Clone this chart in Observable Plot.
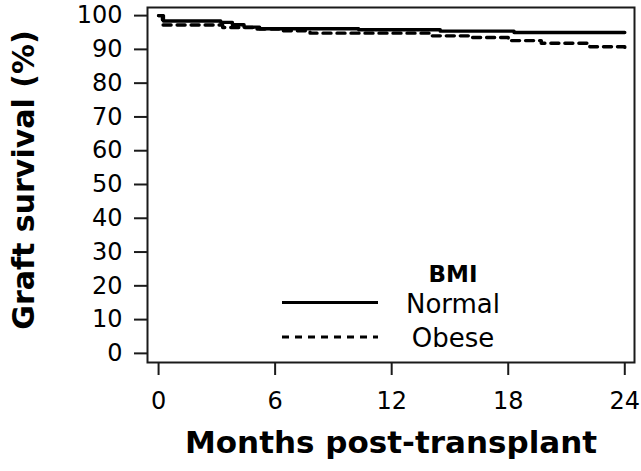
<!DOCTYPE html>
<html>
<head>
<meta charset="utf-8">
<script src="https://cdn.jsdelivr.net/npm/d3@7"></script>
<script src="https://cdn.jsdelivr.net/npm/@observablehq/plot@0.6"></script>
<style>
  html, body { margin: 0; padding: 0; background: #fff; }
  #wrap { position: relative; width: 641px; height: 471px; font-family: "DejaVu Sans", sans-serif; }
  #legend { position: absolute; left: 0; top: 0; pointer-events: none; }
</style>
</head>
<body>
<div id="wrap"></div>
<script>
// Kaplan-Meier step data (months, survival %)
const normalMonths = [0, 0.25, 3.2, 3.8, 4.4, 5.2, 10.3, 14.5, 18.3, 24];
const normalSurv   = [100, 98.4, 98.0, 97.3, 96.6, 96.1, 95.8, 95.4, 95.0, 95.0];
const obeseMonths  = [0, 0.2, 3.3, 5.0, 6.3, 7.8, 14.0, 16.0, 18.0, 19.7, 22.2, 24];
const obeseSurv    = [100, 97.2, 96.5, 96.0, 95.5, 94.8, 94.0, 93.5, 92.6, 91.8, 90.8, 90.0];
const groups = ["Normal", "Obese"];
const xTicks = [0, 6, 12, 18, 24];
const yTicks = [0, 10, 20, 30, 40, 50, 60, 70, 80, 90, 100];
const xTitle = "Months post-transplant";
const yTitle = "Graft survival (%)";
const legendTitle = "BMI";

const normal = normalMonths.map((m, i) => ({month: m, surv: normalSurv[i], group: groups[0]}));
const obese = obeseMonths.map((m, i) => ({month: m, surv: obeseSurv[i], group: groups[1]}));

const font = "DejaVu Sans";
const ink = "#1a1a1a";

const chart = Plot.plot({
  width: 641,
  height: 471,
  marginLeft: 147,
  marginRight: 7,
  marginTop: 7,
  marginBottom: 109,
  style: {fontFamily: font, fontSize: "24px", color: ink, background: "#fff"},
  x: {domain: [-0.57, 24.5]},
  y: {domain: [-2.7, 102.4]},
  marks: [
    Plot.frame({stroke: ink, strokeWidth: 2}),
    Plot.axisX({ticks: xTicks, tickSize: 13, tickPadding: 16, fontSize: 24, label: null, stroke: ink, strokeWidth: 2, fill: "#000"}),
    Plot.axisY({ticks: yTicks, tickSize: 13, tickPadding: 12, fontSize: 24, label: null, stroke: ink, strokeWidth: 2, fill: "#000"}),
    Plot.line(normal, {x: "month", y: "surv", curve: "step-after", stroke: "#000", strokeWidth: 3.4}),
    Plot.line(obese, {x: "month", y: "surv", curve: "step-after", stroke: "#000", strokeWidth: 3.4, strokeDasharray: "8,6"}),
    Plot.text([xTitle], {frameAnchor: "bottom", dy: 90, fontSize: 31, fontWeight: "bold", fill: "#000"}),
    Plot.text([yTitle], {frameAnchor: "left", textAnchor: "middle", dx: -123, dy: -5, rotate: -90, fontSize: 30, fontWeight: "bold", fill: "#000"})
  ]
});

const wrap = document.getElementById("wrap");
wrap.appendChild(chart);

// Legend overlay (HTML-side SVG)
const ns = "http://www.w3.org/2000/svg";
const leg = document.createElementNS(ns, "svg");
leg.setAttribute("id", "legend");
leg.setAttribute("width", 641);
leg.setAttribute("height", 471);
function addText(str, x, y, size, weight) {
  const t = document.createElementNS(ns, "text");
  t.setAttribute("x", x); t.setAttribute("y", y);
  t.setAttribute("text-anchor", "middle");
  t.setAttribute("font-family", font);
  t.setAttribute("font-size", size);
  t.setAttribute("font-weight", weight);
  t.setAttribute("fill", "#000");
  t.textContent = str;
  leg.appendChild(t);
}
function addLine(y, dash) {
  const l = document.createElementNS(ns, "line");
  l.setAttribute("x1", 282); l.setAttribute("x2", 378);
  l.setAttribute("y1", y); l.setAttribute("y2", y);
  l.setAttribute("stroke", "#000");
  l.setAttribute("stroke-width", 3);
  if (dash) l.setAttribute("stroke-dasharray", dash);
  leg.appendChild(l);
}
addText(legendTitle, 453, 282, 23, "bold");
addText(groups[0], 453, 313, 26, "normal");
addText(groups[1], 453, 347, 26, "normal");
addLine(302.5, null);
addLine(337, "7,6");
wrap.appendChild(leg);
</script>
</body>
</html>
